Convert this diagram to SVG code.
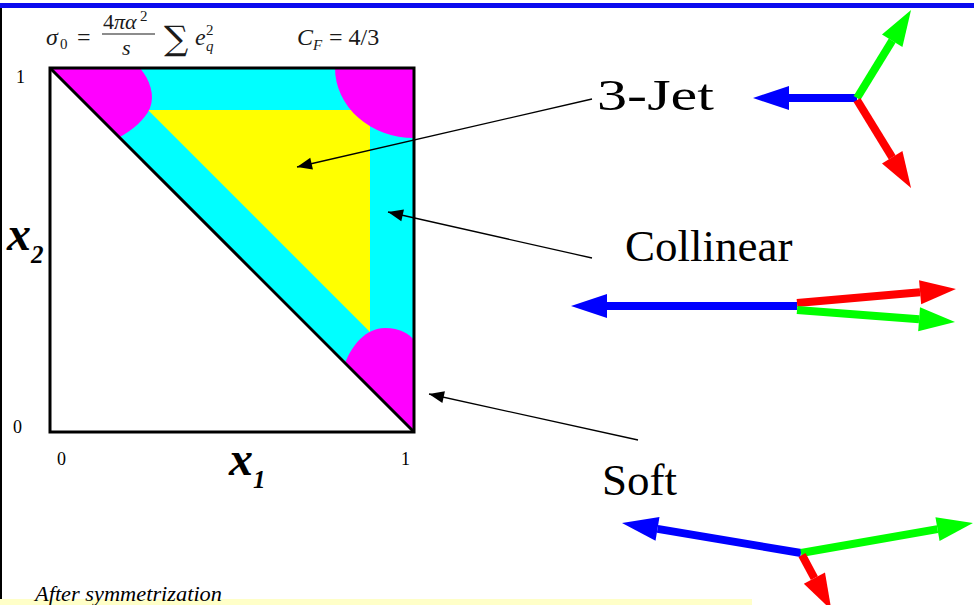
<svg xmlns="http://www.w3.org/2000/svg" width="974" height="605" viewBox="0 0 974 605">
<style>
.serif{font-family:"Liberation Serif","Times New Roman",serif;fill:#000}
.it{font-style:italic}
.math{font-family:"Liberation Serif","Times New Roman",serif;font-style:italic;fill:#1a1a1a}
.up{font-style:normal}
.lbl{font-family:"Liberation Serif","Times New Roman",serif;font-size:45px;fill:#000}
.tick{font-family:"Liberation Serif","Times New Roman",serif;font-size:18px;fill:#000}
.ax{font-family:"Liberation Serif","Times New Roman",serif;font-style:italic;font-weight:bold;fill:#000}
.conn{stroke:#000;stroke-width:1.3;fill:none;marker-end:url(#ah)}
.jb{stroke:#0000ff;stroke-width:8;fill:none;marker-end:url(#hb)}
.jr{stroke:#ff0000;stroke-width:8;fill:none;marker-end:url(#hr)}
.jg{stroke:#00ff00;stroke-width:8;fill:none;marker-end:url(#hg)}
</style>
<defs>
<marker id="ah" markerUnits="userSpaceOnUse" markerWidth="16" markerHeight="12" refX="15" refY="6" orient="auto" overflow="visible"><path d="M0,0 L15,6 L0,12 z" fill="#000"/></marker>
<marker id="hb" markerUnits="strokeWidth" markerWidth="4.5" markerHeight="3" refX="0" refY="1.5" orient="auto" overflow="visible"><path d="M0,0 L4.5,1.5 L0,3 z" fill="#0000ff"/></marker>
<marker id="hr" markerUnits="strokeWidth" markerWidth="4.5" markerHeight="3" refX="0" refY="1.5" orient="auto" overflow="visible"><path d="M0,0 L4.5,1.5 L0,3 z" fill="#ff0000"/></marker>
<marker id="hg" markerUnits="strokeWidth" markerWidth="4.5" markerHeight="3" refX="0" refY="1.5" orient="auto" overflow="visible"><path d="M0,0 L4.5,1.5 L0,3 z" fill="#00ff00"/></marker>
</defs>
<rect width="974" height="605" fill="#fff"/>
<g id="frame">
<rect x="0" y="3" width="974" height="5" fill="#0a0aee"/>
<line x1="1" y1="8" x2="1" y2="605" stroke="#000" stroke-width="2"/>
<rect x="0" y="599" width="752" height="6" fill="#ffffc8"/>
</g>
<g id="formula">
<text class="math" x="46" y="45" font-size="24">σ</text>
<text class="math up" x="60" y="49" font-size="15">0</text>
<text class="math up" x="77" y="45" font-size="24">=</text>
<text class="math" x="103" y="29" font-size="22"><tspan class="up">4</tspan>πα</text>
<text class="math up" x="140" y="21" font-size="15">2</text>
<line x1="102" y1="34" x2="155" y2="34" stroke="#1a1a1a" stroke-width="1.2"/>
<text class="math" x="122" y="55" font-size="22">s</text>
<text x="164" y="50" font-size="34" font-family="DejaVu Serif,serif" fill="#1a1a1a">∑</text>
<text class="math" x="195" y="45" font-size="24">e</text>
<text class="math up" x="206" y="35" font-size="15">2</text>
<text class="math" x="206" y="51" font-size="15">q</text>
<text class="math" x="297" y="45" font-size="24">C</text>
<text class="math" x="313" y="50" font-size="15">F</text>
<text class="math up" x="329" y="45" font-size="24">= 4/3</text>
</g>
<g id="plot">
<polygon points="50,68 414,68 414,432" fill="#00ffff"/>
<polygon points="148,110 370,110 370,332" fill="#ffff00"/>
<path d="M50,68 L140,68 C150,80 155,95 150,108 C145,120 132,130 120,137 Z" fill="#ff00ff"/>
<path d="M335,68 A79,70 0 0 0 414,138 L414,68 Z" fill="#ff00ff"/>
<path d="M345,363 C352,345 366,328 385,328 C400,328 409,334 414,340 L414,432 Z" fill="#ff00ff"/>
<rect x="50" y="68" width="364" height="364" fill="none" stroke="#000" stroke-width="3"/>
<line x1="50" y1="68" x2="414" y2="432" stroke="#000" stroke-width="3"/>
</g>
<g id="axes">
<text class="tick" x="16" y="83">1</text>
<text class="tick" x="13" y="433">0</text>
<text class="tick" x="57" y="465">0</text>
<text class="tick" x="401" y="465">1</text>
<text class="ax" x="7" y="250" font-size="48">x<tspan font-size="25" dy="13">2</tspan></text>
<text class="ax" x="229" y="475" font-size="48">x<tspan font-size="25" dy="13">1</tspan></text>
</g>
<g id="node-3jet">
<text class="lbl" x="597" y="110" font-size="50" textLength="117" lengthAdjust="spacingAndGlyphs">3-Jet</text>
<line class="jb" x1="857" y1="98" x2="789" y2="98"/>
<line class="jg" x1="857" y1="98" x2="892.2" y2="40.7"/>
<line class="jr" x1="857" y1="100" x2="892.2" y2="157.3"/>
</g>
<g id="node-collinear">
<text class="lbl" x="625" y="261">Collinear</text>
<line class="jb" x1="797" y1="306" x2="607" y2="306"/>
<line class="jr" x1="797" y1="303" x2="920.1" y2="292.2"/>
<line class="jg" x1="797" y1="310" x2="919.1" y2="319.3"/>
</g>
<g id="node-soft">
<text class="lbl" x="602" y="495">Soft</text>
<line class="jb" x1="801" y1="553" x2="657.5" y2="528.9"/>
<line class="jg" x1="801" y1="553" x2="937.5" y2="529.1"/>
<line class="jr" x1="802" y1="555" x2="814.4" y2="578.2" stroke-width="5"/>
</g>
<g id="connectors">
<line class="conn" x1="592" y1="99" x2="297" y2="167"/>
<line class="conn" x1="592" y1="258" x2="388" y2="212"/>
<line class="conn" x1="638" y1="440" x2="429" y2="394"/>
</g>
<text class="serif it" x="35" y="601" font-size="22" textLength="187" lengthAdjust="spacingAndGlyphs">After symmetrization</text>
</svg>
